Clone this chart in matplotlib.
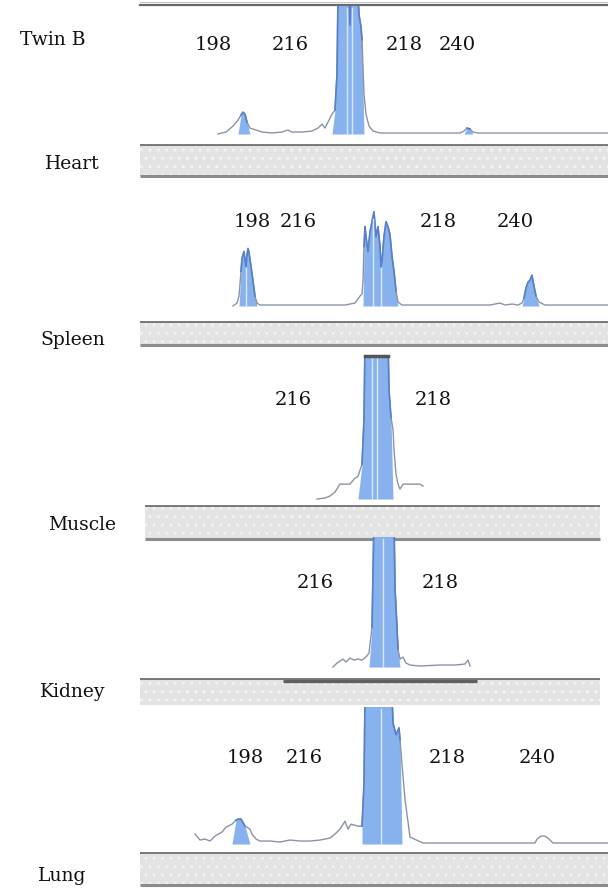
import numpy as np
import matplotlib
matplotlib.use("Agg")
import matplotlib.pyplot as plt
from matplotlib.patches import Rectangle

W, H = 608, 892

# ---------------- data ----------------
tissues = ["Twin B", "Heart", "Spleen", "Muscle", "Kidney", "Lung"]

p1_x = [218, 226, 233, 238, 241, 243, 245, 247, 250, 256, 262, 272, 282, 288, 292, 302, 312, 318, 322, 325,
        329, 332, 335, 337, 338, 349, 350, 351, 358, 359, 361, 362, 364, 366, 369, 373, 380, 460, 464, 467,
        470, 473, 478, 608]
p1_y = [0, 2, 8, 14, 19, 22, 20, 12, 6, 4, 2, 1, 2, 4, 2, 2, 3, 6, 10, 6,
        14, 20, 24, 60, 140, 140, 110, 140, 140, 120, 108, 95, 40, 20, 8, 3, 1, 1, 3, 6,
        5, 2, 1, 1]
p1_fill = [(240, 247), (335, 362), (465, 471)]
p1_bins = [347, 352]
p1_labels = ["198", "216", "218", "240"]

p2_x = [233, 237, 239, 241, 242, 244, 245, 246, 247, 248, 249, 251, 253, 255, 257, 260, 345, 355, 360, 362,
        363, 364, 365, 366, 368, 370, 372, 374, 376, 378, 380, 381, 382, 384, 386, 388, 390, 392, 394, 396,
        398, 402, 490, 500, 505, 512, 518, 522, 524, 526, 528, 530, 532, 534, 536, 539, 545, 608]
p2_y = [0, 3, 10, 35, 48, 55, 46, 40, 52, 58, 54, 40, 25, 10, 3, 1, 1, 3, 10, 12,
        25, 60, 80, 70, 55, 75, 85, 95, 70, 80, 60, 40, 45, 70, 85, 80, 72, 50, 35, 15,
        4, 1, 1, 3, 1, 2, 1, 3, 8, 18, 24, 26, 31, 20, 10, 4, 1, 1]
p2_fill = [(240, 256), (364, 396), (524, 538)]
p2_bins = [246, 373, 381]
p2_labels = ["198", "216", "218", "240"]

p3_x = [317, 325, 330, 335, 340, 350, 354, 358, 362, 364, 365, 388, 389, 391, 393, 394, 396, 398, 400, 403,
        420, 423]
p3_y = [0, 1, 3, 7, 15, 15, 20, 23, 35, 80, 160, 160, 110, 82, 70, 50, 25, 15, 10, 15,
        15, 13]
p3_fill = [(362, 392)]
p3_bins = [372, 377]
p3_labels = ["216", "218"]

p4_x = [333, 337, 340, 343, 346, 350, 354, 358, 362, 366, 369, 372, 374, 394, 395, 396, 397, 398, 400, 403,
        406, 410, 420, 440, 455, 465, 468, 470]
p4_y = [0, 4, 6, 8, 5, 9, 7, 8, 7, 10, 14, 40, 150, 150, 80, 60, 40, 18, 8, 10,
        4, 2, 1, 2, 2, 3, 7, 1]
p4_fill = [(370, 398)]
p4_bins = [383]
p4_labels = ["216", "218"]

p5_x = [195, 200, 205, 210, 215, 222, 226, 232, 236, 238, 241, 245, 250, 252, 256, 260, 270, 280, 290, 300,
        310, 320, 330, 335, 340, 345, 348, 351, 358, 362, 364, 365, 392, 393, 396, 399, 400, 402, 405, 410,
        423, 535, 537, 541, 545, 549, 553, 608]
p5_y = [10, 4, 5, 3, 8, 12, 17, 20, 24, 25, 25, 18, 15, 10, 5, 3, 3, 2, 4, 3,
        3, 4, 6, 10, 15, 23, 15, 20, 18, 18, 60, 150, 150, 122, 110, 117, 105, 80, 45, 7,
        1, 1, 5, 8, 8, 5, 1, 1]
p5_fill = [(236, 246), (362, 400)]
p5_bins = [381]
p5_labels = ["198", "216", "218", "240"]

panels = [
    (p1_x, p1_y, p1_fill, p1_bins, p1_labels),
    (p2_x, p2_y, p2_fill, p2_bins, p2_labels),
    (p3_x, p3_y, p3_fill, p3_bins, p3_labels),
    (p4_x, p4_y, p4_fill, p4_bins, p4_labels),
    (p5_x, p5_y, p5_fill, p5_bins, p5_labels),
]

# ---------------- layout (pixels) ----------------
panel_top = [6, 190, 355, 537, 707]
panel_base = [135, 307, 500, 668, 845]
clip_mark = [False, False, True, False, False]
label_pos = [  # allele label centres (x) and y per panel
    ([213, 290, 404, 457], 45),
    ([252, 298, 438, 515], 222),
    ([293, 433], 400),
    ([315, 440], 583),
    ([245, 304, 447, 537], 758),
]
tissue_pos = [(20, 40), (45, 164), (40, 340), (48, 525), (40, 692), (38, 876)]
bands = [  # x0, x1, top, bottom, draw bottom line
    (140, 608, 145, 176, True),
    (140, 608, 322, 345, True),
    (145, 600, 506, 539, True),
    (140, 600, 679, 705, False),
    (140, 608, 853, 885, True),
]

LINE_C = "#8a93a8"
FILL_C = "#88b2ee"
EDGE_C = "#5581cc"
BIN_C = "#d6e6fb"

fig = plt.figure(figsize=(W / 100, H / 100), dpi=100)
fig.patch.set_facecolor("white")

canvas = fig.add_axes([0, 0, 1, 1], zorder=0)
canvas.set_xlim(0, W)
canvas.set_ylim(H, 0)
canvas.axis("off")

# gray bands
for x0, x1, t, b, bl in bands:
    canvas.add_patch(Rectangle((x0, t), x1 - x0, b - t, facecolor="#e3e3e3",
                               edgecolor="#f3f3f3", hatch="..", linewidth=0))
    canvas.plot([x0, x1], [t, t], color="#6e6e6e", lw=1.3, solid_capstyle="butt")
    if bl:
        canvas.plot([x0, x1], [b, b], color="#8c8c8c", lw=2.2, solid_capstyle="butt")
# kidney darker segment
canvas.plot([283, 477], [681, 681], color="#5f5f5f", lw=2.4, solid_capstyle="butt")
# top frame of first panel
canvas.plot([140, 608], [5, 5], color="#6a6a6a", lw=1.6)
canvas.plot([140, 608], [2, 2], color="#c8c8c8", lw=0.8)

plt.rcParams["font.family"] = ["DejaVu Serif"]

for name, (tx, ty) in zip(tissues, tissue_pos):
    canvas.text(tx, ty, name, fontsize=13.5, ha="left", va="center", color="#111111",
                family="DejaVu Serif")

for (xs, ly), (_, _, _, _, labs) in zip(label_pos, panels):
    for lx, lab in zip(xs, labs):
        canvas.text(lx, ly, lab, fontsize=14, ha="center", va="center", color="#111111",
                    family="DejaVu Serif", zorder=5)

# traces
for (px, py, fills, bins, _), top, base, cm in zip(panels, panel_top, panel_base, clip_mark):
    x = np.asarray(px, float)
    y = np.asarray(py, float)
    ax = fig.add_axes([140 / W, 1 - base / H, 468 / W, (base - top) / H], zorder=2)
    ax.patch.set_alpha(0)
    ax.set_xlim(140, 608)
    ax.set_ylim(-1, base - top)
    ax.axis("off")
    for a, b in fills:
        m = (x >= a) & (x <= b)
        ax.fill_between(x, 0, y, where=m, interpolate=True, color=FILL_C, lw=0)
    ax.plot(x, y, color=LINE_C, lw=1.0)
    for a, b in fills:
        m = (x >= a) & (x <= b)
        ax.plot(x[m], y[m], color=EDGE_C, lw=1.2)
    ytop = base - top
    for bx in bins:
        hy = np.interp(bx, x, y)
        ax.plot([bx, bx], [0, min(hy, ytop) - 2], color=BIN_C, lw=1.0)
    # clipping mark where peaks leave the window
    clipped = y >= ytop
    if cm and clipped.any():
        ax.plot([x[clipped].min(), x[clipped].max()], [ytop - 1, ytop - 1],
                color="#555555", lw=2.5, clip_on=False)

fig.savefig("out.png", dpi=100, facecolor="white")
